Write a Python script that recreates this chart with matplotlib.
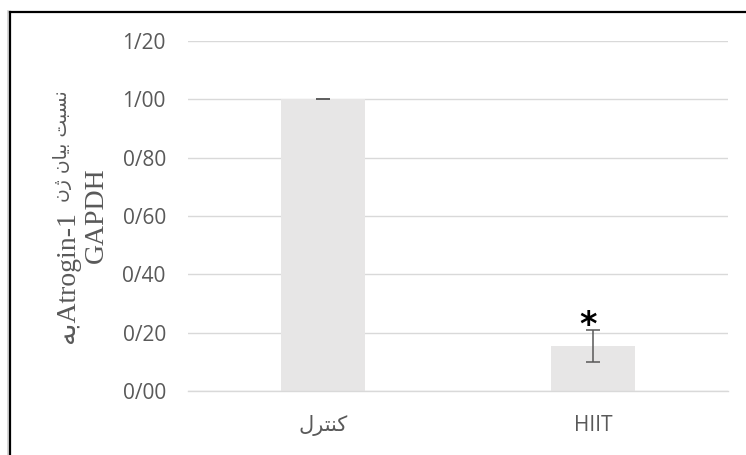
import matplotlib
matplotlib.use("Agg")
import matplotlib.pyplot as plt
from matplotlib.lines import Line2D

# Persian text is written in presentation forms, visual order (no shaping in matplotlib)
CATEGORIES = ["\ufedd\ufeae\ufe98\ufee8\ufb90", "HIIT"]          # کنترل , HIIT
VALUES = [1.00, 0.155]
ERRORS = [0.0, 0.055]
YTICKS = [0.0, 0.2, 0.4, 0.6, 0.8, 1.0, 1.2]
YTICK_LABELS = ["0/00", "0/20", "0/40", "0/60", "0/80", "1/00", "1/20"]
# y label: "نسبت بیان ژن Atrogin-1 به GAPDH" split into its pieces
YLAB_GENE = "\ufeea\ufe91Atrogin-1"
YLAB_WORDS = "\ufee5\ufb8a \ufee5\ufe8e\ufbff\ufe91 \ufe96\ufe92\ufeb4\ufee7"
YLAB_REF = "GAPDH"
SIG_MARK = "*"

GRID = "#D9D9D9"
BAR = "#E7E6E6"
TXT = "#595959"
W, H = 746, 455

fig = plt.figure(figsize=(W / 100, H / 100), dpi=100)
ax = fig.add_axes([188 / W, 1 - 391 / H, 540 / W, 350 / H])

x = list(range(len(CATEGORIES)))
ax.bar(x, VALUES, width=0.31, color=BAR, zorder=2)
ax.errorbar(x, VALUES, yerr=ERRORS, fmt="none", ecolor=TXT, elinewidth=1.1,
            capsize=4.7, capthick=1.1, zorder=3)
ax.text(x[1] - 0.02, VALUES[1] + ERRORS[1] + 0.015, SIG_MARK, ha="center", va="center",
        fontsize=24, fontweight="bold", color="black", family="DejaVu Sans")

ax.set_xlim(-0.5, 1.5)
ax.set_ylim(0, 1.2)
ax.set_yticks(YTICKS)
ax.set_yticklabels(YTICK_LABELS)
ax.set_xticks(x)
ax.set_xticklabels(CATEGORIES)
for lab in ax.get_yticklabels() + ax.get_xticklabels():
    lab.set_family(["Open Sans", "DejaVu Sans"])
ax.tick_params(axis="y", length=0, pad=16, labelsize=15, labelcolor=TXT)
ax.tick_params(axis="x", length=0, pad=17, labelsize=15, labelcolor=TXT)

ax.yaxis.grid(True, color=GRID, linewidth=1.0, zorder=0)
ax.set_axisbelow(True)
for side in ["top", "right", "left"]:
    ax.spines[side].set_visible(False)
ax.spines["bottom"].set_color(GRID)
ax.spines["bottom"].set_linewidth(1.0)

# rotated y label, two lines
serif = ["Liberation Serif", "DejaVu Sans"]
fig.text(67.5 / W, 1 - 343 / H, YLAB_GENE, rotation=90, ha="center", va="bottom",
         fontsize=20, color=TXT, family=serif)
fig.text(63 / W, 1 - 90 / H, YLAB_WORDS, rotation=90, ha="center", va="top",
         fontsize=13.5, color=TXT, family="DejaVu Sans")
fig.text(96 / W, 1 - 215 / H, YLAB_REF, rotation=90, ha="center", va="center",
         fontsize=20, color=TXT, family=serif)

# chart frame (top and left edges only)
fig.add_artist(Line2D([8 / W, 8 / W], [0, 1 - 11 / H], transform=fig.transFigure,
                      color="#D0D0D0", linewidth=1.2))
fig.add_artist(Line2D([10 / W, 10 / W], [0, 1 - 11.5 / H], transform=fig.transFigure,
                      color="black", linewidth=1.6))
fig.add_artist(Line2D([9.5 / W, 1], [1 - 11.5 / H, 1 - 11.5 / H],
                      transform=fig.transFigure, color="black", linewidth=1.6))

fig.savefig("out.png", dpi=100)
